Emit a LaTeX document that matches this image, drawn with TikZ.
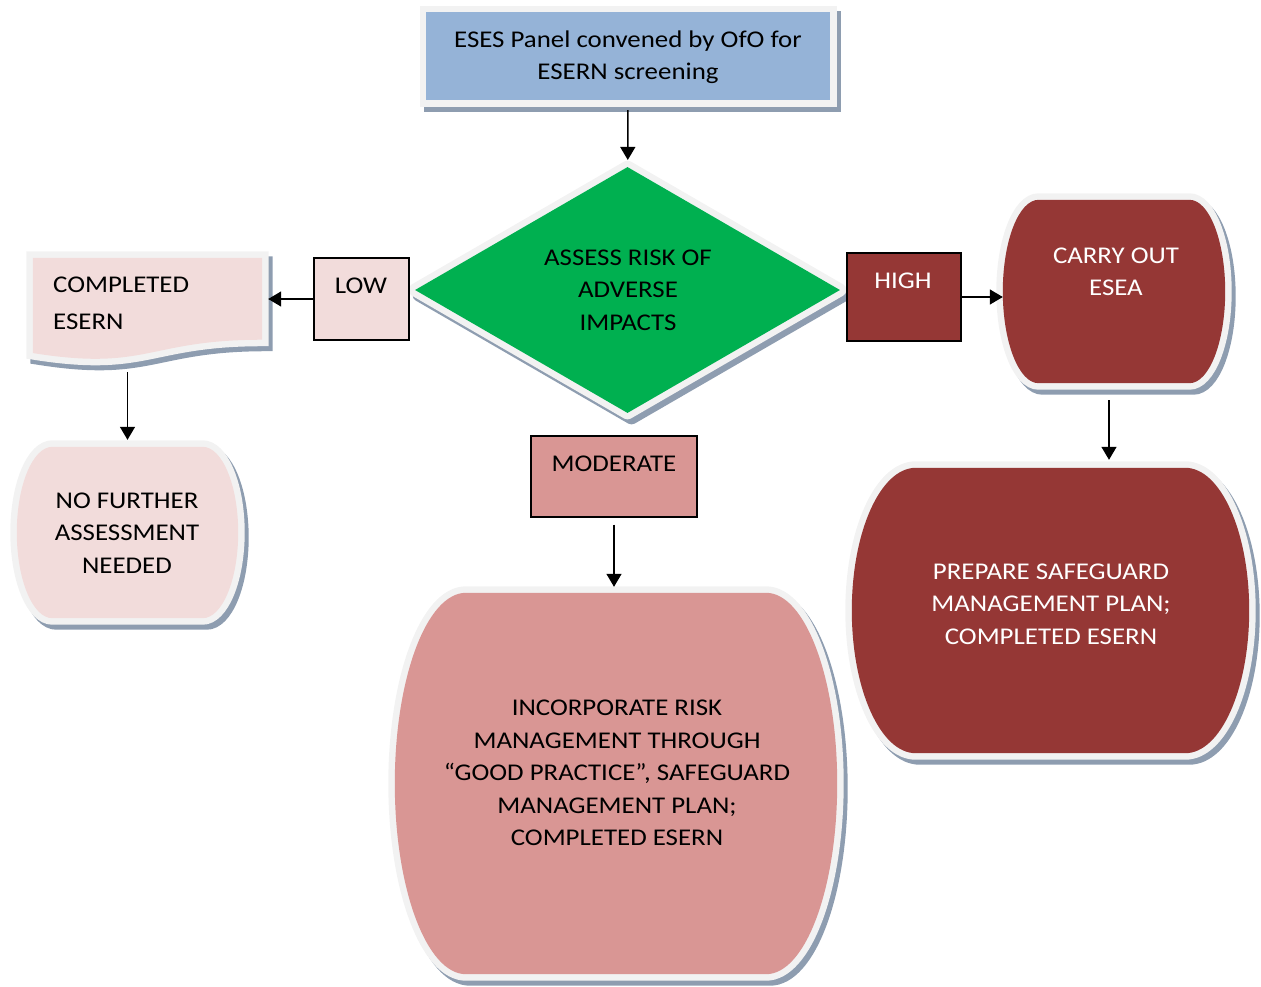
\documentclass[tikz,border=0pt]{standalone}
\usepackage{fontspec}
\setmainfont{Carlito}[FakeStretch=1.12]
\usetikzlibrary{shapes.geometric,arrows.meta,calc}

\definecolor{paneblue}{HTML}{95B3D7}
\definecolor{riskgreen}{HTML}{00B050}
\definecolor{lowpink}{HTML}{F2DCDB}
\definecolor{modpink}{HTML}{D99694}
\definecolor{highred}{HTML}{953735}
\definecolor{frmgray}{HTML}{F2F2F2}
\definecolor{shad}{HTML}{8E9DB0}

\tikzset{
  frm/.style={fill=#1,
    preaction={draw=shad, fill=shad, line width=13pt,
      transform canvas={shift={(4pt,-5pt)}}},
    preaction={draw=frmgray, line width=13pt}},
  box/.style={rectangle, inner sep=0pt},
  flag/.style={box, draw=black, line width=1.2pt, fill=#1},
  txt/.style={inner sep=0pt, align=center, font=\fontsize{24}{32.5}\selectfont},
  arr/.style={-{Triangle[length=13pt,width=15pt]}, line width=1.4pt},
}

% terminator-like box with bulged sides, drawn round an empty node
\newcommand\barrel[2]{%
  \path[frm=#2, line join=round] let \p1=(#1.north west), \p2=(#1.south east),
      \n1={(\y1-\y2)/2}, \n2={0.161*(\x2-\x1)} in
    (\x1+\n2,\y1) -- (\x2-\n2,\y1)
    arc[start angle=90, end angle=-90, x radius=\n2*1pt, y radius=\n1*1pt]
    -- (\x1+\n2,\y2)
    arc[start angle=270, end angle=90, x radius=\n2*1pt, y radius=\n1*1pt] -- cycle;}

% document box with a wavy bottom
\newcommand\docshape[2]{%
  \path[frm=#2, line join=round] let \p1=(#1.north west), \p2=(#1.south east),
      \p3=(#1.center), \n1={\y1-\y2} in
    (\x1,\y1) -- (\x2,\y1) -- (\x2,\y1-0.80*\n1)
    .. controls (\x3,\y1-0.80*\n1) and (\x3,\y1-1.11*\n1) .. (\x1,\y1-0.93*\n1) -- cycle;}

\begin{document}
\begin{tikzpicture}[x=1pt,y=-1pt]
  \useasboundingbox (0,0) rectangle (1261,986);

  % shapes
  \node[frm=paneblue, box, minimum width=404pt, minimum height=88pt] (panel) at (628,56) {};
  \node[frm=riskgreen, diamond, inner sep=0pt, line join=round,
        minimum width=425pt, minimum height=246pt] (assess) at (627.5,290) {};
  \node[flag=lowpink, minimum width=95pt, minimum height=82pt] (low) at (361.5,299) {};
  \node[flag=highred, minimum width=114pt, minimum height=88pt] (high) at (904,297) {};
  \node[flag=modpink, minimum width=166pt, minimum height=81pt] (moderate) at (614,476.5) {};

  \node[box, minimum width=229pt, minimum height=102pt] (doc) at (147.5,309) {};
  \docshape{doc}{lowpink}
  \node[box, minimum width=221pt, minimum height=171pt] (nofurther) at (127.5,532.5) {};
  \barrel{nofurther}{lowpink}
  \node[box, minimum width=222pt, minimum height=183pt] (carry) at (1114,291.5) {};
  \barrel{carry}{highred}
  \node[box, minimum width=397pt, minimum height=285pt] (prepare) at (1050.5,610.5) {};
  \barrel{prepare}{highred}
  \node[box, minimum width=442pt, minimum height=381pt] (incorporate) at (616,783.5) {};
  \barrel{incorporate}{modpink}

  % texts
  \node[txt] (panel-txt) at (628,57) {ESES Panel convened by OfO for\\ESERN screening};
  \node[txt] (assess-txt) at (628,290) {ASSESS RISK OF\\ADVERSE\\IMPACTS};
  \node[txt] (low-txt) at (361,286) {LOW};
  \node[txt, text=white] (high-txt) at (903,281) {HIGH};
  \node[txt] (moderate-txt) at (614,464) {MODERATE};
  \node[txt, anchor=west, align=left] (doc-txt) at (53,303) {COMPLETED\\[4.5pt]ESERN};
  \node[txt] (nofurther-txt) at (127,533) {NO FURTHER\\ASSESSMENT\\NEEDED};
  \node[txt, text=white] (carry-txt) at (1116,272) {CARRY OUT\\ESEA};
  \node[txt, text=white] (prepare-txt) at (1051,604) {PREPARE SAFEGUARD\\MANAGEMENT PLAN;\\COMPLETED ESERN};
  \node[txt] (incorporate-txt) at (617,773) {INCORPORATE RISK\\MANAGEMENT THROUGH\\“GOOD PRACTICE”, SAFEGUARD\\MANAGEMENT PLAN;\\COMPLETED ESERN};

  % connectors
  \coordinate (carry-out) at ([xshift=-5pt]carry.south);
  \draw[arr, shorten <=10pt, shorten >=7pt] (panel) -- (assess);
  \draw[arr, shorten >=6pt] (low.west) -- (doc.east |- low.west);
  \draw[arr, shorten <=12pt, shorten >=7pt] (doc.south -| nofurther.north) -- (nofurther.north);
  \draw[arr] (high.east) -- (high.east -| carry.west);
  \draw[arr, shorten <=17pt, shorten >=8pt] (carry-out) -- (carry-out |- prepare.north);
  \draw[arr, shorten <=7pt, shorten >=6pt] (moderate.south) -- (moderate.south |- incorporate.north);
\end{tikzpicture}
\end{document}
